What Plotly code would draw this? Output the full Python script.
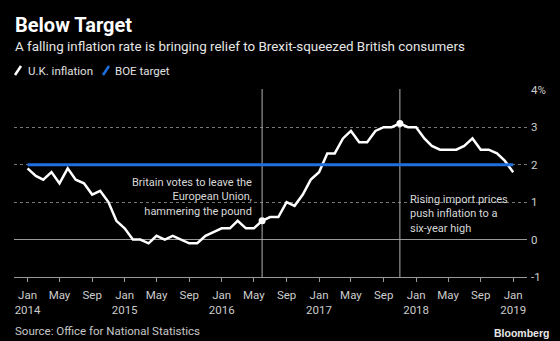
import plotly.graph_objects as go
import pandas as pd

# ---- data ----
months = pd.date_range("2014-01-01", "2019-01-01", freq="MS").strftime("%Y-%m-%d").tolist()
uk_inflation = [
    1.9, 1.7, 1.6, 1.8, 1.5, 1.9, 1.6, 1.5, 1.2, 1.3, 1.0, 0.5,
    0.3, 0.0, 0.0, -0.1, 0.1, 0.0, 0.1, 0.0, -0.1, -0.1, 0.1, 0.2,
    0.3, 0.3, 0.5, 0.3, 0.3, 0.5, 0.6, 0.6, 1.0, 0.9, 1.2, 1.6,
    1.8, 2.3, 2.3, 2.7, 2.9, 2.6, 2.6, 2.9, 3.0, 3.0, 3.1, 3.0,
    3.0, 2.7, 2.5, 2.4, 2.4, 2.4, 2.5, 2.7, 2.4, 2.4, 2.3, 2.1,
    1.8,
]
boe_target = [2.0] * len(months)

event_dates = ["2016-06-01", "2017-11-01"]
event_values = [0.5, 3.1]
event_text_1 = ["Britain votes to leave the", "European Union,", "hammering the pound"]
event_text_2 = ["Rising import prices", "push inflation to a", "six-year high"]

xtick_vals = pd.date_range("2014-01-01", "2019-01-01", freq="4MS").strftime("%Y-%m-%d").tolist()
xtick_text = ["Jan<br>2014", "May", "Sep", "Jan<br>2015", "May", "Sep", "Jan<br>2016", "May", "Sep",
              "Jan<br>2017", "May", "Sep", "Jan<br>2018", "May", "Sep", "Jan<br>2019"]
ytick_vals = [-1, 0, 1, 2, 3, 4]
ytick_text = ["-1", "0", "1", "2", "3", "4%"]
y_range = [-1, 4]

# ---- layout geometry (pixels) ----
W, H = 560, 341
L, R, T, B = 14, 33, 89, 63.5
PW, PH = W - L - R, H - T - B


def px_x(px):
    return (px - L) / PW


def px_y(py):
    return (H - B - py) / PH


FONT = "Roboto, Liberation Sans, sans-serif"
BLUE = "#1f6fe0"

fig = go.Figure()

# event verticals (drawn first so data lines sit on top)
for d in event_dates:
    fig.add_trace(go.Scatter(x=[d, d], y=[y_range[0], y_range[1] + 0.02], mode="lines",
                             line=dict(color="#b0b0b0", width=1), hoverinfo="skip", cliponaxis=False))

fig.add_trace(go.Scatter(x=months, y=uk_inflation, mode="lines",
                         line=dict(color="white", width=2.5), name="U.K. inflation",
                         hoverinfo="skip"))
fig.add_trace(go.Scatter(x=months, y=boe_target, mode="lines",
                         line=dict(color=BLUE, width=3), name="BOE target",
                         hoverinfo="skip"))
fig.add_trace(go.Scatter(x=event_dates, y=event_values, mode="markers",
                         marker=dict(color="white", size=7), hoverinfo="skip"))

annos = []
annos.append(dict(x=event_dates[0], y=px_y(197), xref="x", yref="paper",
                  text="<br>".join(event_text_1), showarrow=False, xanchor="right",
                  yanchor="middle", align="right",
                  xshift=-8, font=dict(size=11, color="#d8d8d8", family=FONT)))
annos.append(dict(x=event_dates[1], y=px_y(214.5), xref="x", yref="paper",
                  text="<br>".join(event_text_2), showarrow=False, xanchor="left",
                  yanchor="middle", align="left",
                  xshift=8, font=dict(size=11, color="#d8d8d8", family=FONT)))

annos.append(dict(x=px_x(13), y=px_y(25), xref="paper", yref="paper", text="<b>Below Target</b>",
                  showarrow=False, xanchor="left", yanchor="middle",
                  font=dict(size=20, color="white", family=FONT)))
annos.append(dict(x=px_x(13), y=px_y(46.5), xref="paper", yref="paper",
                  text="A falling inflation rate is bringing relief to Brexit-squeezed British consumers",
                  showarrow=False, xanchor="left", yanchor="middle",
                  font=dict(size=13.4, color="#e6e6e6", family=FONT)))
annos.append(dict(x=px_x(26), y=px_y(70.5), xref="paper", yref="paper", text="U.K. inflation",
                  showarrow=False, xanchor="left", yanchor="middle",
                  font=dict(size=11.5, color="#e0e0e0", family=FONT)))
annos.append(dict(x=px_x(113), y=px_y(70.5), xref="paper", yref="paper", text="BOE target",
                  showarrow=False, xanchor="left", yanchor="middle",
                  font=dict(size=11.5, color="#e0e0e0", family=FONT)))
annos.append(dict(x=px_x(13), y=px_y(332), xref="paper", yref="paper",
                  text="Source: Office for National Statistics",
                  showarrow=False, xanchor="left", yanchor="middle",
                  font=dict(size=11.5, color="#c8c8c8", family=FONT)))
annos.append(dict(x=px_x(551), y=px_y(334), xref="paper", yref="paper", text="<b>Bloomberg</b>",
                  showarrow=False, xanchor="right", yanchor="middle",
                  font=dict(size=10.5, color="#e8e8e8", family="Liberation Sans, Arial, sans-serif")))

shapes = [
    dict(type="line", xref="paper", yref="paper", x0=px_x(15), y0=px_y(75), x1=px_x(21), y1=px_y(66),
         line=dict(color="white", width=2.5)),
    dict(type="line", xref="paper", yref="paper", x0=px_x(103), y0=px_y(75), x1=px_x(109), y1=px_y(66),
         line=dict(color=BLUE, width=2.5)),
]

fig.update_layout(
    width=W, height=H,
    margin=dict(l=L, r=R, t=T, b=B, pad=0),
    paper_bgcolor="black", plot_bgcolor="black",
    showlegend=False,
    annotations=annos,
    shapes=shapes,
    font=dict(family=FONT, color="#cccccc", size=12),
    xaxis=dict(
        type="date",
        range=["2013-11-11", "2019-02-22"],
        tickvals=xtick_vals, ticktext=xtick_text,
        ticks="outside", ticklen=4, tickcolor="#999", tickwidth=1,
        ticklabelstandoff=3,
        showgrid=False, zeroline=False,
        showline=True, linecolor="#999", linewidth=1,
        tickfont=dict(size=11.5, color="#cccccc", family=FONT),
        fixedrange=True,
    ),
    yaxis=dict(
        range=[y_range[0], y_range[1] + 0.02], side="right",
        tickvals=ytick_vals, ticktext=ytick_text,
        showgrid=True, gridcolor="#777", griddash="dot", gridwidth=1,
        zeroline=True, zerolinecolor="#999", zerolinewidth=1,
        ticks="", ticklabelstandoff=3,
        tickfont=dict(size=11.5, color="#cccccc", family=FONT),
        showline=False, fixedrange=True,
    ),
)

fig.write_html("out.html", config={"displayModeBar": False})
